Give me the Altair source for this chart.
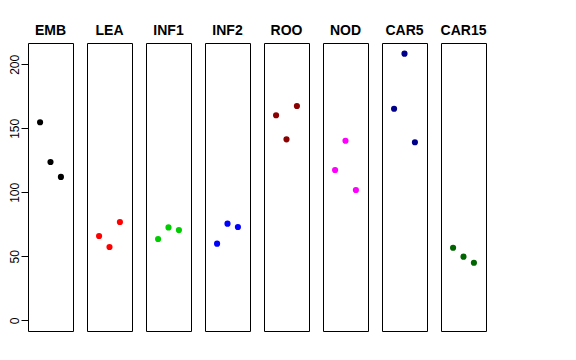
import altair as alt
import pandas as pd

groups = ["EMB", "LEA", "INF1", "INF2", "ROO", "NOD", "CAR5", "CAR15"]
colors = ["#000000", "#FF0000", "#00CD00", "#0000FF", "#8B0000", "#FF00FF", "#00008B", "#006400"]
positions = [1, 2, 3]
emb = [154.7, 123.7, 112.0]
lea = [65.9, 57.3, 76.8]
inf1 = [63.5, 72.6, 70.5]
inf2 = [59.9, 75.5, 72.9]
roo = [160.2, 141.4, 167.4]
nod = [117.4, 140.3, 101.8]
car5 = [165.3, 208.3, 139.1]
car15 = [56.7, 49.7, 45.0]
y_ticks = [0, 50, 100, 150, 200]

series = [emb, lea, inf1, inf2, roo, nod, car5, car15]
rows = []
for g, vals in zip(groups, series):
    for p, v in zip(positions, vals):
        rows.append({"group": g, "pos": p, "value": v})
df = pd.DataFrame(rows)

ymax = 208.3
pad = 0.04 * ymax

base = alt.Chart(df).mark_circle(size=38, opacity=1).encode(
    x=alt.X("pos:Q", scale=alt.Scale(domain=[-0.16, 4.16], nice=False, zero=False), axis=None),
    y=alt.Y("value:Q", scale=alt.Scale(domain=[-pad, ymax + pad], nice=False, zero=False),
            axis=alt.Axis(values=y_ticks, title=None, labelAngle=-90, labelAlign="center",
                          labelBaseline="bottom", labelFontSize=12, labelFont="Liberation Sans",
                          labelColor="black", tickColor="black", tickSize=7, tickWidth=1,
                          labelPadding=0, domain=False, grid=False)),
    color=alt.Color("group:N", scale=alt.Scale(domain=groups, range=colors), legend=None),
).properties(width=45, height=288)

chart = base.facet(
    column=alt.Column("group:N", sort=groups,
                      header=alt.Header(title=None, labelFontSize=14, labelFontWeight="bold",
                                        labelFont="Liberation Sans", labelColor="black",
                                        labelOrient="top", labelPadding=5)),
    spacing=14,
    bounds="flush",
).properties(
    padding={"left": 0, "top": 16, "right": 5, "bottom": 5}
).configure_view(stroke="black", strokeWidth=1)

chart.save("out.html", embed_options={"renderer": "svg", "actions": False})
